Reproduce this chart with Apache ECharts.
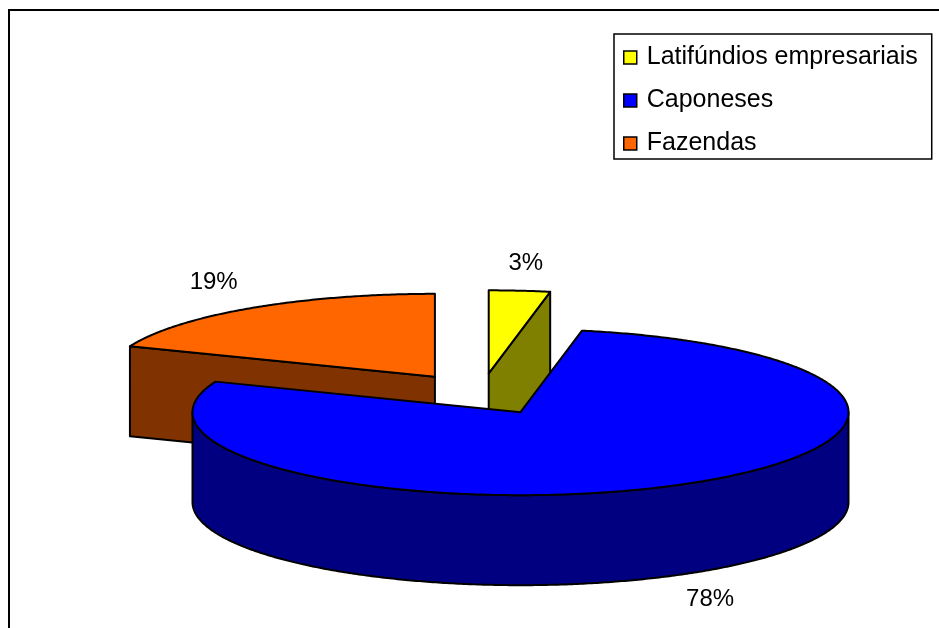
<!DOCTYPE html>
<html>
<head>
<meta charset="utf-8">
<script src="https://cdn.jsdelivr.net/npm/echarts@6/dist/echarts.min.js"></script>
<style>
  html, body { margin: 0; padding: 0; background: #fff; }
  #chart { width: 939px; height: 628px; }
</style>
</head>
<body>
<div id="chart"></div>
<script>
// ---- data ----
const categories = ['Latifúndios empresariais', 'Caponeses', 'Fazendas'];
const values = [3, 78, 19];
const topColors = ['#FFFF00', '#0000FF', '#FF6600'];
const sideColors = ['#808000', '#000080', '#803300'];

// ---- layout (3D pie projection) ----
const CX = 481, CY = 394;   // pie centre
const RX = 328, RY = 83;    // ellipse radii of the top face
const DEPTH = 90;           // thickness of the pie
const EXPLODE = 0.25;       // explosion as fraction of radius

const total = values.reduce((a, b) => a + b, 0);
const rad = d => d * Math.PI / 180;

function makeRender(i) {
  return function (params, api) {
    const v = api.value(0);
    let before = 0;
    for (let k = 0; k < i; k++) before += values[k];
    const t1 = before / total * 360;
    const t2 = (before + v) / total * 360;
    const tm = (t1 + t2) / 2;
    const ax = CX + EXPLODE * RX * Math.sin(rad(tm));
    const ay = CY - EXPLODE * RY * Math.cos(rad(tm));
    const rim = (t, dy) => [ax + RX * Math.sin(rad(t)), ay - RY * Math.cos(rad(t)) + (dy || 0)];
    const arc = (a, b, dy) => {
      const n = Math.max(2, Math.ceil(Math.abs(b - a) / 0.5));
      const pts = [];
      for (let s = 0; s <= n; s++) pts.push(rim(a + (b - a) * s / n, dy));
      return pts;
    };
    const base = Math.round(ay * 10);
    const lineStyle = { stroke: '#000', lineWidth: 2, lineJoin: 'round' };
    const children = [];
    // start cut face
    if (Math.sin(rad(t1)) < -1e-6) {
      const p = rim(t1);
      children.push({ type: 'polygon', z2: base + 1,
        shape: { points: [[ax, ay], p, [p[0], p[1] + DEPTH], [ax, ay + DEPTH]] },
        style: Object.assign({ fill: sideColors[i] }, lineStyle) });
    }
    // end cut face
    if (Math.sin(rad(t2)) > 1e-6) {
      const p = rim(t2);
      children.push({ type: 'polygon', z2: base + 1,
        shape: { points: [[ax, ay], p, [p[0], p[1] + DEPTH], [ax, ay + DEPTH]] },
        style: Object.assign({ fill: sideColors[i] }, lineStyle) });
    }
    // curved outer wall (front half only)
    const w1 = Math.max(t1, 90), w2 = Math.min(t2, 270);
    if (w2 > w1) {
      const pts = arc(w1, w2, 0).concat(arc(w2, w1, DEPTH));
      children.push({ type: 'polygon', z2: base + 2,
        shape: { points: pts },
        style: Object.assign({ fill: sideColors[i] }, lineStyle) });
    }
    // top face
    const topPts = [[ax, ay]].concat(arc(t1, t2, 0));
    children.push({ type: 'polygon', z2: base + 3,
      shape: { points: topPts },
      style: Object.assign({ fill: topColors[i] }, lineStyle) });
    // percentage label
    const cm = Math.cos(rad(tm));
    const lx = ax + Math.sin(rad(tm)) * RX * 1.2;
    const ly = ay - cm * RY * (cm > 0.5 && cm < 0.9 ? 1.38 : 1.33) + (cm < 0 ? DEPTH : 0);
    children.push({ type: 'text', x: lx, y: ly, z2: 100000,
      style: { text: Math.round(v / total * 100) + '%', fill: '#000',
        font: '24px "Liberation Sans", Arial, sans-serif', align: 'center', verticalAlign: 'middle' } });
    return { type: 'group', children: children };
  };
}

const chart = echarts.init(document.getElementById('chart'), null, { renderer: 'canvas' });
chart.setOption({
  animation: false,
  backgroundColor: '#fff',
  color: topColors,
  graphic: [{
    type: 'rect', silent: true, z: -10,
    shape: { x: 9, y: 10, width: 1000, height: 1000 },
    style: { fill: 'none', stroke: '#000', lineWidth: 2 }
  }],
  legend: {
    orient: 'vertical', left: 614, top: 34,
    icon: 'rect', itemWidth: 13, itemHeight: 13, itemGap: 18,
    padding: [11, 14, 3, 9],
    borderColor: '#000', borderWidth: 1.5, backgroundColor: '#fff',
    selectedMode: false,
    textStyle: { fontFamily: '"Liberation Sans", Arial, sans-serif', fontSize: 25, color: '#000', lineHeight: 22, padding: [0, 0, 0, 5] },
    itemStyle: { borderColor: '#000', borderWidth: 1.5 },
    data: categories
  },
  series: categories.map((name, i) => ({
    type: 'custom', name: name, coordinateSystem: 'none', silent: true,
    itemStyle: { color: topColors[i] },
    renderItem: makeRender(i),
    data: [[values[i]]]
  }))
});
</script>
</body>
</html>
